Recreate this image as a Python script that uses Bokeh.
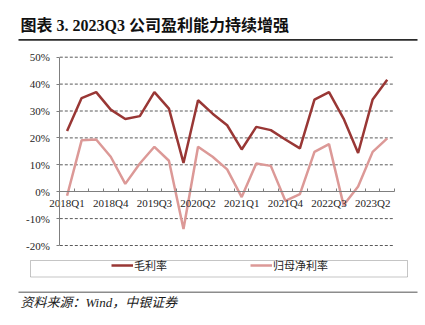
from bokeh.plotting import figure
from bokeh.models import (Range1d, LinearAxis, FixedTicker, PrintfTickFormatter,
                          Label, BoxAnnotation, Legend, LegendItem, ColumnDataSource)
from bokeh.embed import file_html
from bokeh.resources import INLINE

# ---------------- data ----------------
quarters = ["2018Q1", "2018Q2", "2018Q3", "2018Q4", "2019Q1", "2019Q2", "2019Q3", "2019Q4",
            "2020Q1", "2020Q2", "2020Q3", "2020Q4", "2021Q1", "2021Q2", "2021Q3", "2021Q4",
            "2022Q1", "2022Q2", "2022Q3", "2022Q4", "2023Q1", "2023Q2", "2023Q3"]
gross_margin = [22.6, 34.8, 37.0, 30.5, 27.0, 28.1, 37.0, 30.9, 10.7, 34.0, 29.0, 24.7,
                15.7, 24.1, 22.9, 19.4, 16.1, 34.2, 37.0, 27.2, 14.4, 34.3, 41.6]
net_margin = [-1.5, 19.1, 19.4, 13.0, 2.9, 10.5, 16.7, 11.5, -13.9, 16.7, 13.0, 8.3,
              -2.0, 10.5, 9.6, -3.4, -0.9, 14.8, 17.7, -5.0, 1.9, 14.8, 19.8]
tick_labels = ["2018Q1", "2018Q4", "2019Q3", "2020Q2", "2021Q1", "2021Q4", "2022Q3", "2023Q2"]
y_ticks = [-20, -10, 0, 10, 20, 30, 40, 50]
series_names = ["毛利率", "归母净利率"]
title_text = "图表 3. 2023Q3 公司盈利能力持续增强"
source_text = "资料来源：Wind，中银证券"

# ---------------- styling / layout ----------------
SERIF = "Liberation Serif, Noto Sans CJK SC"
CJK = "Noto Sans CJK SC"
DARK_RED = "#993735"
PINK = "#DC9997"
AXIS_GRAY = "#7F7F7F"
GRID_GRAY = "#5A5A5A"
TEXT = "#262626"
W, H = 425, 325
# plot-area pixel box on the canvas
PL, PR, PT, PB = 59.3, 394.0, 56.7, 245.0

n = len(quarters)
x = list(range(n))
xlo, xhi = -0.5, n - 0.5
ylo, yhi = min(y_ticks), max(y_ticks)
sx = (PR - PL) / (xhi - xlo)
sy = (PB - PT) / (yhi - ylo)
x_range = Range1d(xlo - PL / sx, xhi + (W - PR) / sx)
y_range = Range1d(ylo - (H - PB) / sy, yhi + PT / sy)

src = ColumnDataSource(dict(x=x, q=quarters, gm=gross_margin, nm=net_margin))

p = figure(width=W, height=H, output_backend="svg", toolbar_location=None,
           x_range=x_range, y_range=y_range, min_border=0,
           x_axis_location=None, y_axis_location=None)
p.outline_line_color = None
p.background_fill_color = "white"
p.border_fill_color = "white"
p.xgrid.visible = False
p.ygrid.visible = False

# dashed horizontal grid lines across the plot area only
grid_vals = [t for t in y_ticks if t != 0]
p.segment(x0=[xlo] * len(grid_vals), x1=[xhi] * len(grid_vals), y0=grid_vals, y1=grid_vals,
          line_color=GRID_GRAY, line_dash="3 2", line_width=1)

# y axis (fixed at the left edge of the plot area)
yax = LinearAxis(fixed_location=xlo, bounds=(ylo, yhi),
                 ticker=FixedTicker(ticks=y_ticks),
                 formatter=PrintfTickFormatter(format="%d%%"),
                 axis_line_color=AXIS_GRAY, axis_line_width=1,
                 major_tick_line_color=AXIS_GRAY, major_tick_out=3, major_tick_in=0,
                 minor_tick_line_color=None, major_label_standoff=7,
                 major_label_text_font=SERIF, major_label_text_font_size="11px",
                 major_label_text_color=TEXT)
p.add_layout(yax, "left")

# x axis at y = 0: labels axis + boundary-tick axis
label_idx = [quarters.index(t) for t in tick_labels]
xlab = LinearAxis(fixed_location=0, bounds=(xlo, xhi),
                  ticker=FixedTicker(ticks=label_idx),
                  major_label_overrides={i: quarters[i] for i in label_idx},
                  axis_line_color=AXIS_GRAY, axis_line_width=1,
                  major_tick_line_color=None, major_tick_out=0, major_tick_in=0,
                  minor_tick_line_color=None, major_label_standoff=5,
                  major_label_text_font=SERIF, major_label_text_font_size="11px",
                  major_label_text_color=TEXT)
p.add_layout(xlab, "below")
xtk = LinearAxis(fixed_location=0, bounds=(xlo, xhi),
                 ticker=FixedTicker(ticks=[i - 0.5 for i in range(n + 1)]),
                 axis_line_color=None, major_tick_line_color=AXIS_GRAY,
                 major_tick_in=3, major_tick_out=0, minor_tick_line_color=None,
                 major_label_text_font_size="0px", major_label_text_alpha=0)
p.add_layout(xtk, "below")

# series
r1 = p.line("x", "gm", source=src, line_color=DARK_RED, line_width=2.5)
r2 = p.line("x", "nm", source=src, line_color=PINK, line_width=2.5)

# legend (screen coordinates measured from bottom-left of canvas)
legend = Legend(items=[LegendItem(label=series_names[0], renderers=[r1]),
                       LegendItem(label=series_names[1], renderers=[r2])],
                location=(111, H - 273), orientation="horizontal",
                glyph_width=22, glyph_height=14, label_height=14, label_width=116,
                label_standoff=1, spacing=0, padding=0, margin=0,
                border_line_color=None, background_fill_alpha=0,
                label_text_font=CJK, label_text_font_size="11px",
                label_text_color=TEXT)
p.add_layout(legend, "center")
p.add_layout(BoxAnnotation(left=30, right=407, top=H - 260, bottom=H - 276.5,
                           left_units="screen", right_units="screen",
                           top_units="screen", bottom_units="screen",
                           fill_alpha=0, line_color="#404040", line_width=1))

# title and underline
p.add_layout(Label(x=20, y=H - 25, x_units="screen", y_units="screen",
                   text=title_text, text_font=SERIF, text_font_size="16px",
                   text_font_style="bold", text_color="#111111",
                   text_baseline="middle", text_align="left"))
p.add_layout(BoxAnnotation(left=18, right=417, top=H - 38.6, bottom=H - 40.3,
                           left_units="screen", right_units="screen",
                           top_units="screen", bottom_units="screen",
                           fill_color="#2B2B2B", fill_alpha=1, line_color=None))

# source line and text
p.add_layout(BoxAnnotation(left=18, right=417, top=H - 291, bottom=H - 292.4,
                           left_units="screen", right_units="screen",
                           top_units="screen", bottom_units="screen",
                           fill_color="#8C8C8C", fill_alpha=1, line_color=None))
p.add_layout(Label(x=20, y=H - 302, x_units="screen", y_units="screen",
                   text=source_text, text_font=SERIF, text_font_size="13px",
                   text_font_style="italic", text_color="#1A1A1A",
                   text_baseline="middle", text_align="left"))

open("out.html", "w").write(file_html(p, INLINE))
